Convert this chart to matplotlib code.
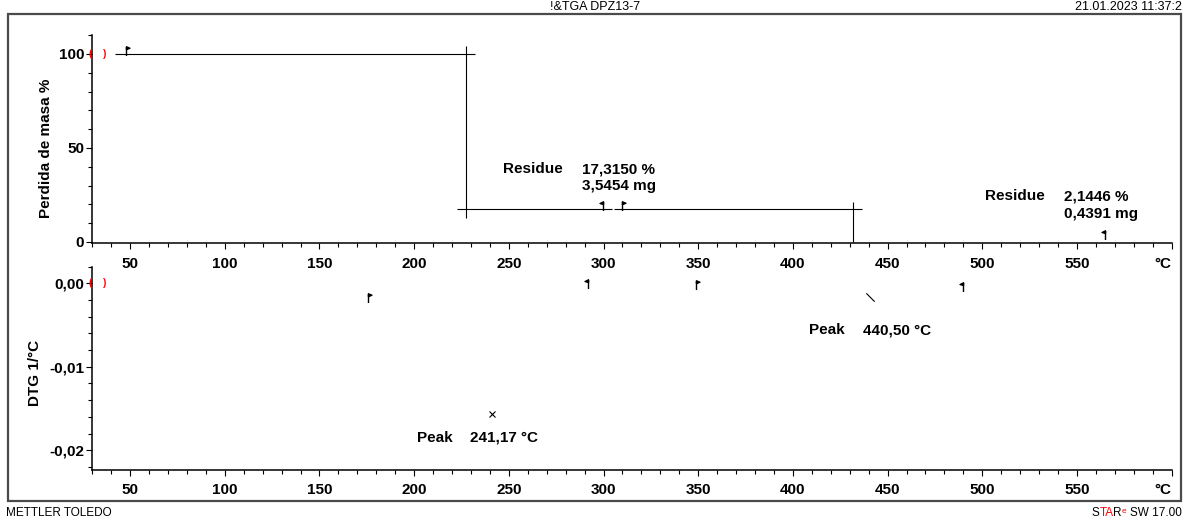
import matplotlib
matplotlib.use("Agg")
import matplotlib.pyplot as plt
from matplotlib.path import Path
from matplotlib.patches import Rectangle
from matplotlib.ticker import MultipleLocator

plt.rcParams['font.family'] = ['Liberation Sans', 'DejaVu Sans']

# ---------------- data ----------------
# temperature axis (°C)
temp_major = [50, 100, 150, 200, 250, 300, 350, 400, 450, 500, 550, 600]
temp_labels = ['50', '100', '150', '200', '250', '300', '350', '400',
               '450', '500', '550', '°C']

# TGA step evaluation: horizontal baselines (mass %)
tga_h_level = [100.0, 17.315, 17.315]
tga_h_from = [42.3, 222.6, 305.6]
tga_h_to = [232.2, 304.3, 436.4]
# TGA step evaluation: vertical limits
tga_v_temp = [227.2, 431.7]
tga_v_from = [12.6, 0.0]
tga_v_to = [104.4, 21.4]

# evaluation limit flags on the mass curve
tga_flag_temp = [47.9, 309.7]
tga_flag_pct = [100.0, 17.315]
tga_one_temp = [299.5, 565.0]
tga_one_pct = [17.315, 2.1446]

# residues
residue_pct = [17.3150, 2.1446]
residue_mg = [3.5454, 0.4391]

# DTG evaluation limit flags
dtg_flag_temp = [175.5, 348.6]
dtg_flag_val = [-0.00208, -0.00056]
dtg_one_temp = [291.6, 489.6]
dtg_one_val = [-0.00044, -0.0008]

# DTG peaks
peak_temp = [241.17, 440.50]
peak_dtg = [-0.01565, -0.00164]

# ---------------- figure ----------------
W, H = 1191, 522
fig = plt.figure(figsize=(W / 100, H / 100), dpi=100)


def fx(px):
    return px / W


def fy(py):
    return 1 - py / H


# outer frame
fig.add_artist(Rectangle((fx(7.5), fy(500.5)), fx(1181) - fx(7.5), fy(14.3) - fy(500.5),
                         transform=fig.transFigure, fill=False, ec='#4a4a4a', lw=1.6))

left, right = 92.2, 1171.7
ax_w = right - left
ax1 = fig.add_axes([fx(left), fy(242.9), fx(right) - fx(left), fy(35.2) - fy(242.9)])
ax2 = fig.add_axes([fx(left), fy(469.5), fx(right) - fx(left), fy(266.6) - fy(469.5)])


def style_axis(ax):
    for s in ('top', 'right'):
        ax.spines[s].set_visible(False)
    for s in ('left', 'bottom'):
        ax.spines[s].set_linewidth(1.1)
    ax.set_xlim(30, 600)
    ax.set_xticks(temp_major, temp_labels)
    ax.xaxis.set_minor_locator(MultipleLocator(10))
    ax.tick_params(axis='x', which='major', length=4.3, width=0.8, pad=5.5,
                   labelsize=11)
    ax.tick_params(axis='y', which='major', length=4.3, width=0.8, pad=1.5,
                   labelsize=11)
    ax.tick_params(which='minor', length=2.6, width=0.8)
    for lbl in ax.get_xticklabels() + ax.get_yticklabels():
        lbl.set_fontweight('bold')
    ax.get_xticklabels()[-1].set_horizontalalignment('right')
    ax.patch.set_visible(False)


# ---- top panel: mass loss ----
style_axis(ax1)
ax1.set_ylim(-0.5, 110)
ax1.set_yticks([0, 50, 100], ['0', '50', '100'])
ax1.yaxis.set_minor_locator(MultipleLocator(10))
for lbl in ax1.get_yticklabels():
    lbl.set_fontweight('bold')

ax1.hlines(tga_h_level, tga_h_from, tga_h_to, color='k', lw=0.8)
ax1.vlines(tga_v_temp, tga_v_from, tga_v_to, color='k', lw=0.8)

flag_right = Path([(0, -0.2), (0, 1), (0, 1), (0.45, 0.82), (0, 0.64), (0, 1)],
                  [Path.MOVETO, Path.LINETO, Path.MOVETO, Path.LINETO, Path.LINETO,
                   Path.CLOSEPOLY])
flag_one = Path([(0, -0.2), (0, 1), (0, 1), (-0.45, 0.78), (0, 0.66), (0, 1)],
                [Path.MOVETO, Path.LINETO, Path.MOVETO, Path.LINETO, Path.LINETO,
                 Path.CLOSEPOLY])
mk = dict(ls='none', ms=11, mfc='k', mec='k', mew=1.0, clip_on=False)
ax1.plot(tga_flag_temp, tga_flag_pct, marker=flag_right, **mk)
ax1.plot(tga_one_temp, tga_one_pct, marker=flag_one, **mk)

lab = dict(fontsize=11, fontweight='bold', ha='left', va='baseline')
res_word_x = [247.0, 501.5]
res_val_x = [288.6, 542.9]
res_line1_y = [36.5, 22.3]
res_line2_y = [27.7, 12.6]
for xw, xv, y1, y2, p, m in zip(res_word_x, res_val_x, res_line1_y, res_line2_y,
                                residue_pct, residue_mg):
    ax1.text(xw, y1, 'Residue', **lab)
    ax1.text(xv, y1, f'{p:.4f} %'.replace('.', ','), **lab)
    ax1.text(xv, y2, f'{m:.4f} mg'.replace('.', ','), **lab)

ax1.set_ylabel('Perdida de masa %', fontsize=11, fontweight='bold')
ax1.yaxis.set_label_coords((53 - left) / ax_w, (242.9 - 148) / 207.7)

# ---- bottom panel: DTG ----
style_axis(ax2)
ax2.set_ylim(-0.0223, 0.002)
ax2.set_yticks([0.0, -0.01, -0.02], ['0,00', '-0,01', '-0,02'])
ax2.yaxis.set_minor_locator(MultipleLocator(0.002))
for lbl in ax2.get_yticklabels():
    lbl.set_fontweight('bold')

ax2.plot(dtg_flag_temp, dtg_flag_val, marker=flag_right, **mk)
ax2.plot(dtg_one_temp, dtg_one_val, marker=flag_one, **mk)
ax2.plot(peak_temp[:1], peak_dtg[:1], ls='none', marker='x', ms=5, mew=0.8, color='k')
slash = Path([(-1, 1), (1, -1)], [Path.MOVETO, Path.LINETO])
ax2.plot(peak_temp[1:], peak_dtg[1:], ls='none', marker=slash, ms=6, mew=0.8,
         color='k', mfc='none')

peak_word_x = [201.6, 408.6]
peak_val_x = [229.6, 437.1]
peak_text_y = [-0.01897, -0.00611]
for xw, xv, yb, t in zip(peak_word_x, peak_val_x, peak_text_y, peak_temp):
    ax2.text(xw, yb, 'Peak', **lab)
    ax2.text(xv, yb, f'{t:.2f} °C'.replace('.', ','), **lab)

ax2.set_ylabel('DTG 1/°C', fontsize=11, fontweight='bold')
ax2.yaxis.set_label_coords((42 - left) / ax_w, (469.5 - 373) / 202.9)

# red curve-start brackets at the left edge
for ax, yv in ((ax1, 100.0), (ax2, 0.0)):
    ax.text(29.2, yv, '(', color='red', fontsize=7, fontweight='bold',
            ha='center', va='center', clip_on=False)
    ax.text(36.8, yv, ')', color='red', fontsize=7, fontweight='bold',
            ha='center', va='center', clip_on=False)

# ---- header / footer ----
fig.text(fx(595), fy(6.5), '!&TGA DPZ13-7', fontsize=9, ha='center', va='center')
fig.text(fx(1182), fy(6.5), '21.01.2023 11:37:2', fontsize=9, ha='right', va='center')
fig.text(fx(6), fy(512.5), 'METTLER TOLEDO', fontsize=8.5, ha='left', va='center')

renderer = fig.canvas.get_renderer()
pieces = [('S', 'black', 8.5, 0), ('TA', 'red', 8.5, 0), ('R', 'black', 8.5, 0),
          ('e', 'red', 6, 3.5), (None, None, None, None), ('SW 17.00', 'black', 8.5, 0)]
x_px = 1182
base_py = 516.5
for txt, col, size, dy in reversed(pieces):
    if txt is None:
        x_px -= 3.5
        continue
    t = fig.text(x_px / W, 1 - (base_py - dy) / H, txt, color=col, fontsize=size,
                 ha='right', va='baseline')
    bb = t.get_window_extent(renderer)
    x_px = bb.x0

fig.savefig('out.png', dpi=100)
